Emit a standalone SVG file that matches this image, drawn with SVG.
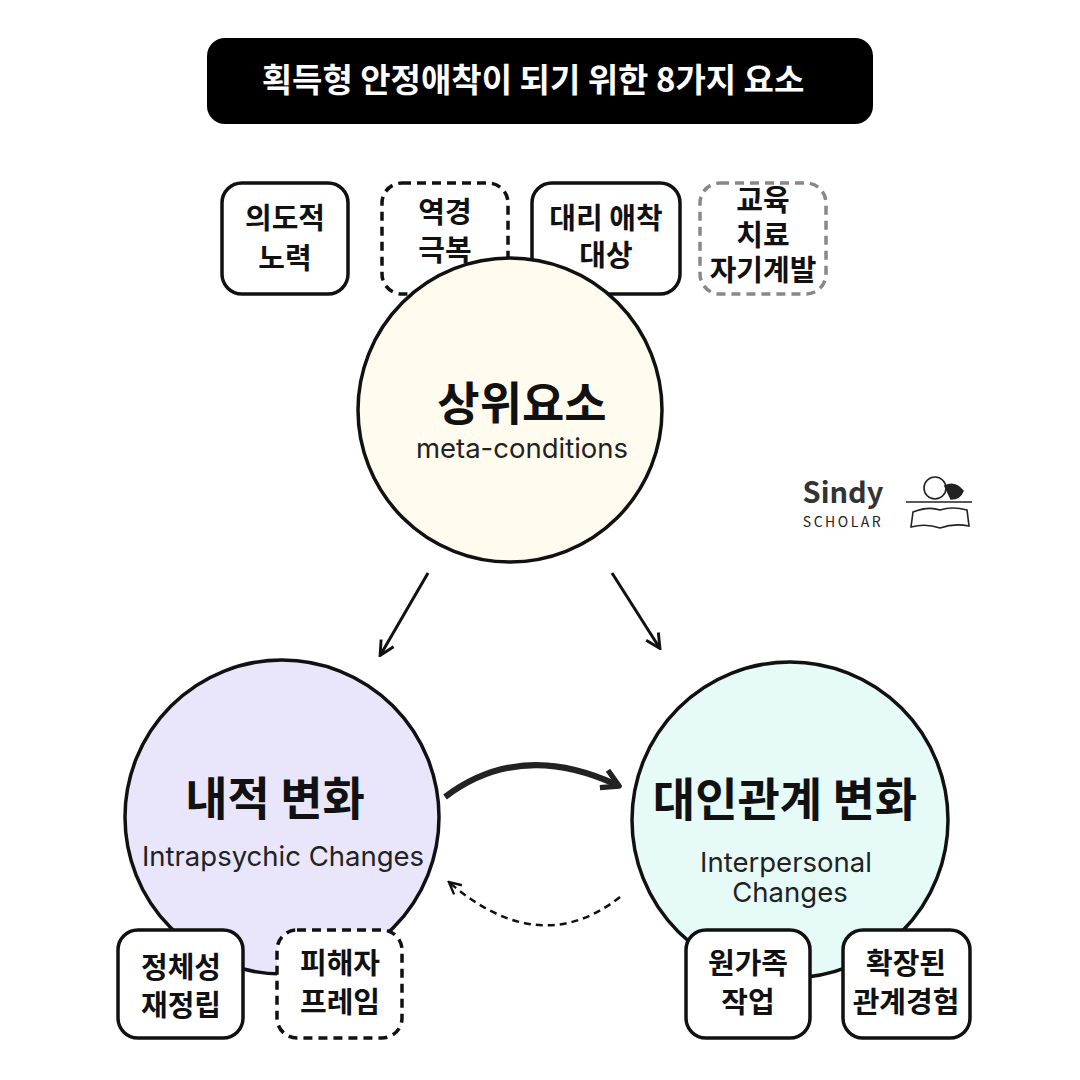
<svg xmlns="http://www.w3.org/2000/svg" width="1080" height="1080" viewBox="0 0 1080 1080">
<style>
text{font-family:"Noto Sans CJK KR","Noto Sans",sans-serif;text-anchor:middle}
.b{font-weight:700;font-size:29px;fill:#111}
.box{fill:#fff;stroke:#111;stroke-width:3.5}
.d{stroke-dasharray:9 6}
.c{stroke:#111;stroke-width:3.5}
.en{font-family:Inter,"Noto Sans",sans-serif;font-size:27.5px;fill:#222}
.big{font-size:46px;font-weight:700;fill:#111}
</style>
<defs>
<marker id="a" viewBox="0 0 10 10" refX="8" refY="5" markerWidth="6" markerHeight="6" orient="auto"><path d="M1,1 L9,5 L1,9" fill="none" stroke="#111" stroke-width="1.6"/></marker>
<marker id="a2" viewBox="0 0 10 10" refX="7" refY="5" markerWidth="4" markerHeight="4" orient="auto"><path d="M1,1 L8,5 L1,9" fill="none" stroke="#222" stroke-width="2.2" stroke-linejoin="round"/></marker>
</defs>
<rect width="1080" height="1080" fill="#fff"/>
<g id="title"><rect x="207" y="38" width="666" height="86" rx="18" fill="#000"/>
<text x="533" y="92" font-size="33" font-weight="700" fill="#fff">획득형 안정애착이 되기 위한 8가지 요소</text></g>
<g id="n1"><rect class="box" x="222" y="183" width="126" height="111" rx="20"/><text class="b" x="285" y="229">의도적</text><text class="b" x="285" y="269">노력</text></g>
<g id="n2"><rect class="box d" x="382" y="183" width="126" height="111" rx="20"/><text class="b" x="445" y="223">역경</text><text class="b" x="445" y="261">극복</text></g>
<g id="n3"><rect class="box" x="532" y="183" width="148" height="111" rx="20"/><text class="b" x="606" y="229">대리 애착</text><text class="b" x="606" y="266">대상</text></g>
<g id="n4"><rect class="box d" x="700" y="183" width="126" height="111" rx="20" style="stroke:#888"/><text class="b" x="763" y="211" font-size="28">교육</text><text class="b" x="763" y="246" font-size="28">치료</text><text class="b" x="763" y="281" font-size="28">자기계발</text></g>
<g id="top"><circle class="c" cx="510" cy="410" r="152" fill="#fffbee"/><text class="big" x="522" y="420">상위요소</text><text class="en" x="522" y="458">meta-conditions</text></g>
<g id="left"><circle class="c" cx="282" cy="817" r="157" fill="#e9e5fb"/><text class="big" x="275" y="815">내적 변화</text><text class="en" x="283" y="866">Intrapsychic Changes</text></g>
<g id="right"><circle class="c" cx="790" cy="820" r="158" fill="#e6faf8"/><text class="big" x="785" y="816">대인관계 변화</text><text class="en" x="786" y="872">Interpersonal</text><text class="en" x="790" y="902">Changes</text></g>
<g id="n5"><rect class="box" x="118" y="930" width="125" height="108" rx="20"/><text class="b" x="181" y="978">정체성</text><text class="b" x="181" y="1016">재정립</text></g>
<g id="n6"><rect class="box d" x="277" y="930" width="125" height="108" rx="20"/><text class="b" x="340" y="974">피해자</text><text class="b" x="340" y="1013">프레임</text></g>
<g id="n7"><rect class="box" x="686" y="930" width="124" height="108" rx="20"/><text class="b" x="748" y="974">원가족</text><text class="b" x="748" y="1013">작업</text></g>
<g id="n8"><rect class="box" x="843" y="930" width="127" height="108" rx="20"/><text class="b" x="906" y="974">확장된</text><text class="b" x="906" y="1013">관계경험</text></g>
<g id="connectors" fill="none">
<line x1="428" y1="573" x2="381" y2="654" stroke="#111" stroke-width="3" marker-end="url(#a)"/>
<line x1="612" y1="573" x2="659" y2="647" stroke="#111" stroke-width="3" marker-end="url(#a)"/>
<path d="M445,797 Q520,740 617,785" stroke="#222" stroke-width="6" marker-end="url(#a2)"/>
<path d="M620,897 Q540,960 450,883" stroke="#111" stroke-width="2.5" stroke-dasharray="7 5" marker-end="url(#a)"/>
</g>
<g id="logo">
<text x="843" y="503" font-family="Inter,sans-serif" font-size="29" font-weight="700" fill="#333">Sindy</text>
<text x="843" y="527" font-family="Inter,sans-serif" font-size="14" letter-spacing="2.5" fill="#222">SCHOLAR</text>
<g fill="none" stroke="#222" stroke-width="1.6"><circle cx="935" cy="488" r="11" fill="#fff"/><path d="M945,486 q10,-5 18,5 q-3,8 -12,8 z" fill="#222"/><path d="M913,512 q15,-6 27,-2 q12,-4 27,0 l2,16 q-15,-3 -29,2 q-14,-5 -29,-1 z" fill="#fff"/><line x1="906" y1="502" x2="972" y2="502"/></g>
</g>
</svg>
